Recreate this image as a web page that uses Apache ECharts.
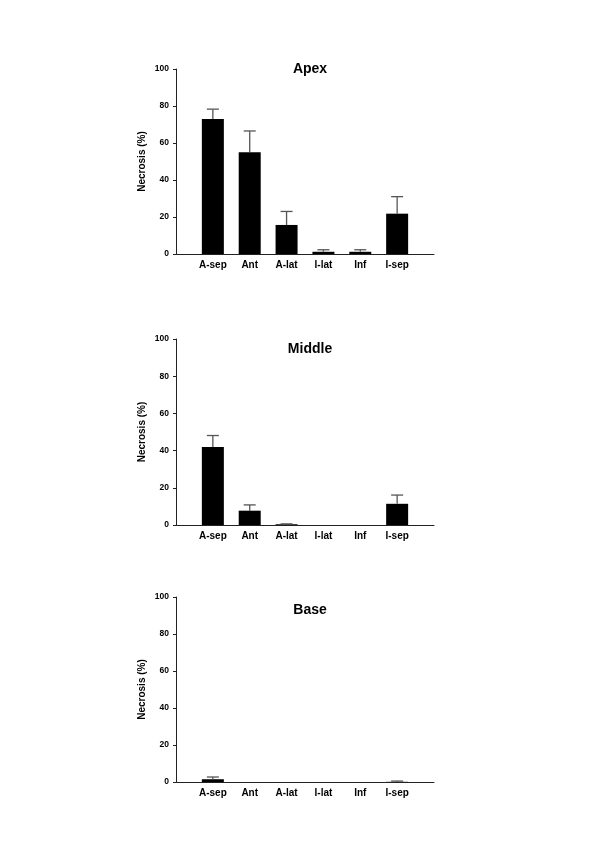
<!DOCTYPE html>
<html>
<head>
<meta charset="utf-8">
<script src="https://cdn.jsdelivr.net/npm/echarts@6/dist/echarts.min.js"></script>
<style>
  html, body { margin: 0; padding: 0; background: #fff; }
  #chart { width: 600px; height: 849px; }
</style>
</head>
<body>
<div id="chart"></div>
<script>
// segment names, padded so the bars sit on ticks inside a wider axis
var categories = ['', 'A-sep', 'Ant', 'A-lat', 'I-lat', 'Inf', 'I-sep', ''];
var yTicks = [0, 20, 40, 60, 80, 100];

// mean necrosis (%) and upper error (SEM) per segment
var apexMean   = [null, 73, 55, 15.7, 1.2, 1.2, 21.8, null];
var apexSem    = [null, 5.3, 11.5, 7.3, 1.1, 1.1, 9.2, null];
var middleMean = [null, 42, 7.7, 0.4, 0, 0, 11.4, null];
var middleSem  = [null, 6.1, 3.1, 0.2, 0, 0, 4.7, null];
var baseMean   = [null, 1.5, 0, 0, 0, 0, 0.1, null];
var baseSem    = [null, 1.2, 0, 0, 0, 0, 0.4, null];

var panelTitles = ['Apex', 'Middle', 'Base'];

var FONT = 'Liberation Sans, Arial, sans-serif';

// build [index, mean, mean+sem] for the error whiskers
function errData(mean, sem) {
    var out = [];
    for (var i = 0; i < mean.length; i++) {
        if (mean[i] == null || !sem[i]) continue;
        out.push([i, mean[i], mean[i] + sem[i]]);
    }
    return out;
}

function renderErr(params, api) {
    var base = api.coord([api.value(0), api.value(1)]);
    var top = api.coord([api.value(0), api.value(2)]);
    var half = 6;
    var style = { stroke: '#555', lineWidth: 1.3 };
    return {
        type: 'group',
        children: [
            { type: 'line', shape: { x1: base[0], y1: base[1], x2: top[0], y2: top[1] }, style: style },
            { type: 'line', shape: { x1: top[0] - half, y1: top[1], x2: top[0] + half, y2: top[1] }, style: style }
        ]
    };
}

var grids = [
    { left: 176, right: 166, top: 69, height: 185 },
    { left: 176, right: 166, top: 339, height: 186 },
    { left: 176, right: 166, top: 597, height: 185 }
];
var titleTops = [57, 337, 598];
var means = [apexMean, middleMean, baseMean];
var sems = [apexSem, middleSem, baseSem];

var option = {
    animation: false,
    backgroundColor: '#fff',
    title: [],
    grid: grids,
    xAxis: [],
    yAxis: [],
    series: []
};

for (var p = 0; p < 3; p++) {
    option.title.push({
        text: panelTitles[p],
        left: 305,
        top: titleTops[p],
        textAlign: 'center',
        textStyle: { fontFamily: FONT, fontSize: 14, fontWeight: 'bold', color: '#000' }
    });
    option.xAxis.push({
        type: 'category',
        gridIndex: p,
        data: categories,
        boundaryGap: false,
        axisLine: { lineStyle: { color: '#222', width: 1 } },
        axisTick: { show: false },
        axisLabel: { interval: 0, margin: 6, fontFamily: FONT, fontSize: 10, fontWeight: 'bold', color: '#000' }
    });
    option.yAxis.push({
        type: 'value',
        gridIndex: p,
        min: yTicks[0],
        max: yTicks[yTicks.length - 1],
        interval: 20,
        name: 'Necrosis (%)',
        nameLocation: 'middle',
        nameGap: 29,
        nameTextStyle: { fontFamily: FONT, fontSize: 10, fontWeight: 'bold', color: '#000' },
        splitLine: { show: false },
        axisLine: { show: true, lineStyle: { color: '#222', width: 1 } },
        axisTick: { show: true, length: 3, lineStyle: { color: '#222' } },
        axisLabel: { margin: 7, fontFamily: FONT, fontSize: 8.5, fontWeight: 'bold', color: '#000' }
    });
    option.series.push({
        type: 'bar',
        xAxisIndex: p,
        yAxisIndex: p,
        data: means[p],
        barWidth: 22,
        itemStyle: { color: '#000' }
    });
    option.series.push({
        type: 'custom',
        xAxisIndex: p,
        yAxisIndex: p,
        data: errData(means[p], sems[p]),
        renderItem: renderErr,
        z: 3
    });
}

var chart = echarts.init(document.getElementById('chart'));
chart.setOption(option);
</script>
</body>
</html>
